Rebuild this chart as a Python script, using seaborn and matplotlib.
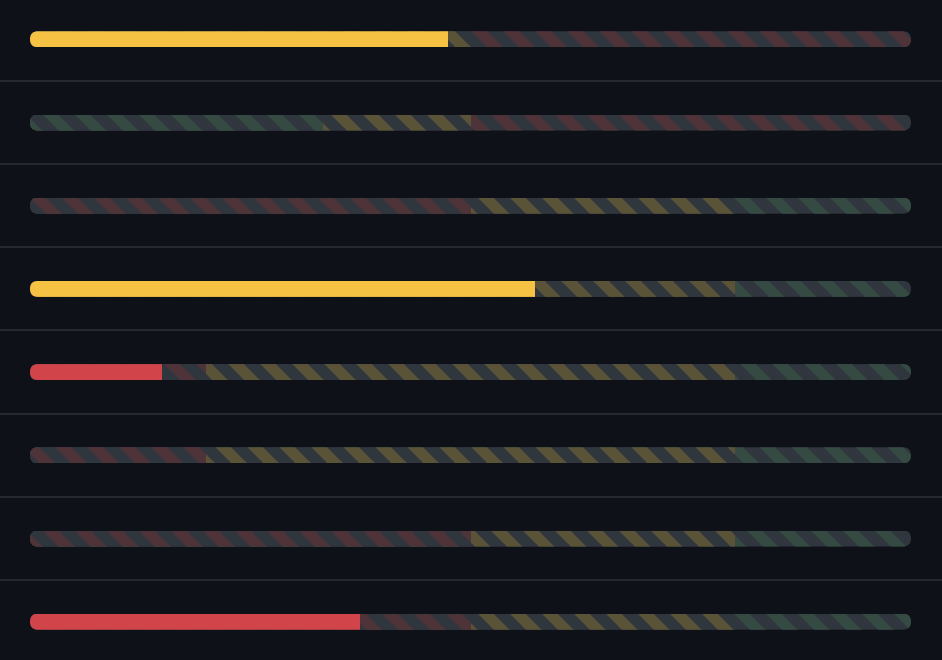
import matplotlib
matplotlib.use("Agg")
import matplotlib.pyplot as plt
from matplotlib.patches import FancyBboxPatch
import pandas as pd
import seaborn as sns

# Data: one gauge per row, scale 0-100
rows = ["Row 1", "Row 2", "Row 3", "Row 4", "Row 5", "Row 6", "Row 7", "Row 8"]
low_cut = [33.3, 33.3, 50, 50, 20, 20, 50, 50]
high_cut = [50, 50, 80, 80, 80, 80, 80, 80]
zone_low = ["green", "green", "red", "red", "red", "red", "red", "red"]
zone_mid = ["yellow"] * 8
zone_high = ["red", "red", "green", "green", "green", "green", "green", "green"]
values = [47.4, 0, 0, 57.3, 15.0, 0, 0, 37.5]
status = ["warn", "none", "none", "warn", "crit", "none", "none", "crit"]

# Colours
bg = "#0e1117"
track = "#30363d"
stripe_colors = {"red": "#4e3339", "yellow": "#5a5338", "green": "#354a42"}
fill_colors = {"warn": "#f6c244", "crit": "#d0444a", "none": track}
sep_color = "#262a30"

# Geometry in pixels (figure is 942x660)
W, H, DPI = 942, 660, 96
left_px, right_px = 30, 911
row0_px, step_px, bar_px = 39.3, 83.2, 16

plt.rcParams["hatch.linewidth"] = 8.3

fig = plt.figure(figsize=(W / DPI, H / DPI), dpi=DPI, facecolor=bg)
ax = fig.add_axes([0, 0, 1, 1], facecolor=bg)

px_per_x = (right_px - left_px) / 100
bar_h = bar_px / step_px


def add_layer(ends, zones):
    n0 = len(ax.patches)
    sns.barplot(x=ends, y=rows, hue=zones, palette=stripe_colors, order=rows,
                orient="y", dodge=False, width=bar_h, saturation=1,
                errorbar=None, legend=False, ax=ax)
    for p in ax.patches[n0:]:
        c = p.get_facecolor()
        p.set_facecolor(track)
        p.set_edgecolor(c)
        p.set_hatch("\\")
        p.set_linewidth(0)


# stripes: widest zone first, narrower ones on top
add_layer([100] * len(rows), zone_high)
add_layer(high_cut, zone_mid)
add_layer(low_cut, zone_low)

# current value bars
n0 = len(ax.patches)
fill_df = pd.DataFrame({"row": rows, "value": values, "status": status})
sns.barplot(data=fill_df, x="value", y="row", hue="status", palette=fill_colors,
            order=rows, orient="y", dodge=False, width=bar_h, saturation=1,
            errorbar=None, legend=False, linewidth=0, ax=ax)

ax.set_xlim(-left_px / px_per_x, (W - left_px) / px_per_x)
ax.set_ylim((H - row0_px) / step_px, -row0_px / step_px)
ax.axis("off")

# pill shaped clip for every row
asp = px_per_x / step_px
pills = []
for i in range(len(rows)):
    pill = FancyBboxPatch((0, i - bar_h / 2), 100, bar_h,
                          boxstyle=f"round,pad=0,rounding_size={bar_h / asp / 2}",
                          mutation_aspect=asp, transform=ax.transData)
    pills.append(pill)
for p in ax.patches:
    i = int(round(p.get_y() + p.get_height() / 2))
    p.set_clip_path(pills[i])

# separators between rows
for i in range(len(rows) - 1):
    ax.axhline(i + 0.5, color=sep_color, lw=1.5)

fig.savefig("out.png", dpi=DPI, facecolor=bg)
